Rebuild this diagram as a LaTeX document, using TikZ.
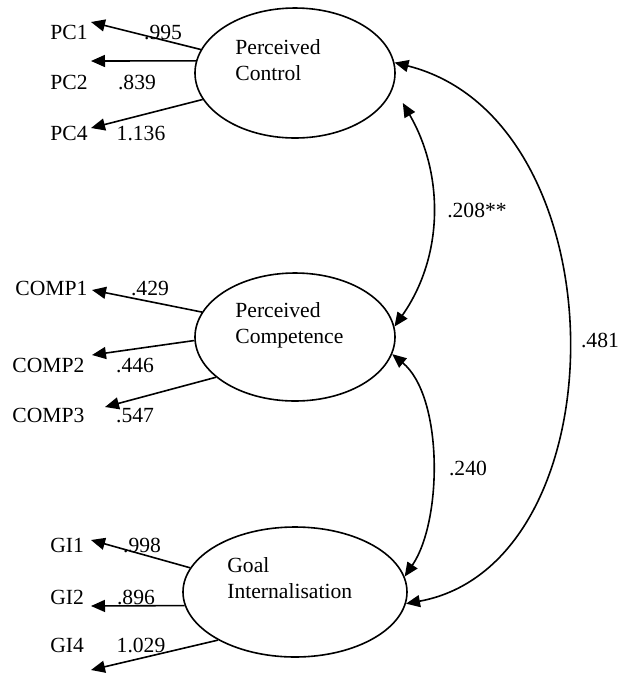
\documentclass[tikz,border=0pt]{standalone}
\usepackage{fontspec}
\setmainfont{Liberation Serif}
\usepackage{tikz}
\usetikzlibrary{shapes}
\usetikzlibrary{calc}
\usetikzlibrary{arrows.meta}

\begin{document}
\begin{tikzpicture}[x=0.5pt,y=-0.5pt,
	latent/.style={draw, ellipse, line width=0.8pt, inner sep=0pt},
	ind/.style={draw=none,fill=none, inner sep=0pt, font=\fontsize{10.8}{13}\selectfont},
	coef/.style={ind},
	lvname/.style={ind, align=left, anchor=west},
	loading/.style={-{Triangle[length=7pt,width=6pt]}, line width=0.8pt},
	cov/.style={{Triangle[length=7pt,width=6pt]}-{Triangle[length=7pt,width=6pt]}, line width=0.8pt}]
	\useasboundingbox (0,0) rectangle (620,677);

	\node[latent, minimum width=100pt, minimum height=65pt] (ctrl) at (295,73) {};
	\node[lvname] (ctrltxt) at (235,60) {Perceived\\Control};
	\node[latent, minimum width=100pt, minimum height=64pt] (comp) at (295,337) {};
	\node[lvname] (comptxt) at (235,325) {Perceived\\Competence};
	\node[latent, minimum width=112pt, minimum height=65pt] (goal) at (295,592) {};
	\node[lvname] (goaltxt) at (227,578) {Goal\\Internalisation};

	\node[ind, anchor=west] (pc1) at (50,32) {PC1};
		\coordinate (pc1tip) at (91,22);
		\draw[loading] (ctrl.166) -- (pc1tip);
		\node[coef] (l995) at (163,32) {.995};
	\node[ind, anchor=west] (pc2) at (50,82) {PC2};
		\coordinate (pc2tip) at (91,61);
		\draw[loading] (ctrl.173) -- (pc2tip);
		\node[coef] (l839) at (137,82) {.839};
	\node[ind, anchor=west] (pc4) at (50,133) {PC4};
		\coordinate (pc4tip) at (91,128);
		\draw[loading] (ctrl.196) -- (pc4tip);
		\node[coef] (l1136) at (141,133) {1.136};

	\node[ind, anchor=west] (comp1) at (15,288) {COMP1};
		\coordinate (comp1tip) at (92,290);
		\draw[loading] (comp.165) -- (comp1tip);
		\node[coef] (l429) at (150,288) {.429};
	\node[ind, anchor=west] (comp2) at (12,365) {COMP2};
		\coordinate (comp2tip) at (92,355);
		\draw[loading] (comp.182) -- (comp2tip);
		\node[coef] (l446) at (135,365) {.446};
	\node[ind, anchor=west] (comp3) at (12,415) {COMP3};
		\coordinate (comp3tip) at (105,407);
		\draw[loading] (comp.207) -- (comp3tip);
		\node[coef] (l547) at (135,416) {.547};

	\node[ind, anchor=west] (gi1) at (50,545) {GI1};
		\coordinate (gi1tip) at (91,540);
		\draw[loading] (goal.167) -- (gi1tip);
		\node[coef] (l998) at (142,545) {.998};
	\node[ind, anchor=west] (gi2) at (50,597) {GI2};
		\coordinate (gi2tip) at (91,606);
		\draw[loading] (goal.187) -- (gi2tip);
		\node[coef] (l896) at (136,597) {.896};
	\node[ind, anchor=west] (gi4) at (50,645) {GI4};
		\coordinate (gi4tip) at (91,670);
		\draw[loading] (goal.212) -- (gi4tip);
		\node[coef] (l1029) at (141,645) {1.029};

	\draw[cov] ($(ctrl.east)+(7,30)$) .. controls (444,174) and (444,256) .. (comp.6);
		\node[coef] (l208) at (477,210) {.208**};
	\draw[cov] (comp.-10) .. controls (443,396) and (443,520) .. (goal.8);
		\node[coef] (l240) at (468,468) {.240};
	\draw[cov] (ctrl.6) .. controls (623,120) and (623,564) .. (goal.-6);
		\node[coef] (l481) at (600,340) {.481};
\end{tikzpicture}
\end{document}
